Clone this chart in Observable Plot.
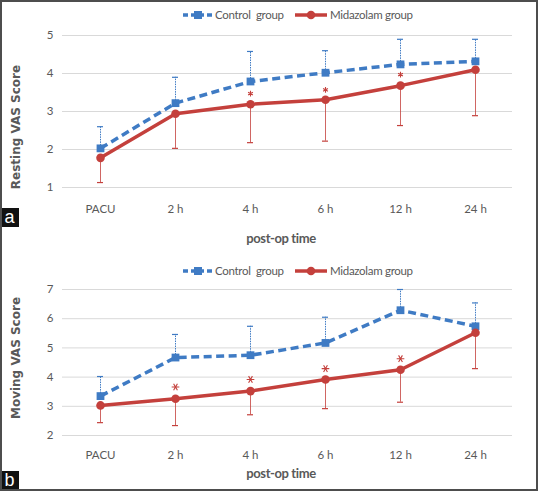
<!DOCTYPE html>
<html>
<head>
<meta charset="utf-8">
<script src="https://cdn.jsdelivr.net/npm/d3@7"></script>
<script src="https://cdn.jsdelivr.net/npm/@observablehq/plot@0.6"></script>
<style>
  html, body { margin: 0; padding: 0; background: #fff; }
  #wrap { position: absolute; left: 0; top: 0; width: 538px; height: 491px; background: #fff; overflow: hidden; }
  .abs { position: absolute; }
  .xtitle { font-family: Lato, sans-serif; font-weight: bold; font-size: 13px; letter-spacing: -0.4px; color: #595959; transform: translate(-50%, -50%); white-space: nowrap; }
  .ytitle { font-family: "DejaVu Sans", sans-serif; font-weight: bold; font-size: 12px; color: #595959; transform: translate(-50%, -50%) rotate(-90deg); white-space: nowrap; }
  .tag { background: #111; color: #fff; font-family: "Liberation Sans", Arial, sans-serif; font-size: 18px; line-height: 19px; text-align: center; width: 19px; height: 19px; }
  #border { position: absolute; left: 0; top: 0; width: 538px; height: 491px; box-sizing: border-box; border: 2px solid #4d4d4d; pointer-events: none; }
</style>
</head>
<body>
<div id="wrap"></div>
<script>
// ---- data ----
const times = ["PACU", "2 h", "4 h", "6 h", "12 h", "24 h"];
const seriesNames = ["Control  group", "Midazolam group"];

// Panel a: Resting VAS
const restControlMean = [2.03, 3.22, 3.79, 4.02, 4.24, 4.32];
const restControlUpper = [2.6, 3.9, 4.58, 4.6, 4.9, 4.9];
const restMidazMean = [1.78, 2.94, 3.19, 3.31, 3.68, 4.1];
const restMidazLower = [1.13, 2.03, 2.18, 2.22, 2.63, 2.89];
const restStarTimes = ["4 h", "6 h", "12 h"];
const restStarY = [3.47, 3.57, 3.97];
const restTicks = [1, 2, 3, 4, 5];

// Panel b: Moving VAS
const moveControlMean = [3.35, 4.67, 4.75, 5.17, 6.29, 5.74];
const moveControlUpper = [4.02, 5.46, 5.74, 6.05, 7.0, 6.54];
const moveMidazMean = [3.03, 3.26, 3.52, 3.92, 4.25, 5.52];
const moveMidazLower = [2.44, 2.34, 2.71, 2.92, 3.14, 4.29];
const moveStarTimes = ["2 h", "4 h", "6 h", "12 h"];
const moveStarY = [3.66, 3.92, 4.29, 4.63];
const moveTicks = [2, 3, 4, 5, 6, 7];

const BLUE = "#3f7bc4";
const RED = "#c4403c";
const GRAY = "#595959";
const FONT = "Lato, sans-serif";

// asterisk with a horizontal bar (rotated 6-spoke)
const asteriskH = {
  draw(context, size) {
    const r = Math.sqrt(size) * 0.6;
    const t = r / 2, u = t * Math.sqrt(3);
    context.moveTo(-r, 0); context.lineTo(r, 0);
    context.moveTo(-t, -u); context.lineTo(t, u);
    context.moveTo(-t, u); context.lineTo(t, -u);
  }
};

const wrap = document.getElementById("wrap");

function rows(mean, err) {
  return times.map((t, i) => ({time: t, mean: mean[i], err: err[i]}));
}

function panel({top, height, marginTop, marginBottom, domain, ticks, ctrlMean, ctrlUpper, midMean, midLower, starTimes, starY, starSymbol, starR, tickPad}) {
  const ctrl = rows(ctrlMean, ctrlUpper);
  const mid = rows(midMean, midLower);
  const stars = starTimes.map((t, i) => ({time: t, y: starY[i]}));
  const plot = Plot.plot({
    width: 538,
    height,
    marginLeft: 62,
    marginRight: 26,
    marginTop,
    marginBottom,
    style: {background: "transparent", color: GRAY, fontFamily: FONT, fontSize: "11.5px"},
    x: {type: "point", domain: times, padding: 0.5, axis: null},
    y: {domain, axis: null},
    marks: [
      Plot.ruleY(ticks, {stroke: "#d9d9d9", strokeWidth: 1}),
      Plot.axisY(ticks, {tickSize: 0, tickPadding: 9, label: null, fontSize: 11.5}),
      Plot.axisX(times, {tickSize: 0, tickPadding: tickPad, label: null, fontSize: 11.5}),
      // control error bars (up, dotted)
      Plot.ruleX(ctrl, {x: "time", y1: "mean", y2: "err", stroke: BLUE, strokeWidth: 1, strokeDasharray: "1.5,1"}),
      Plot.ruleY(ctrl, {x1: "time", x2: "time", y: "err", stroke: BLUE, strokeWidth: 1.2, insetLeft: -3, insetRight: -3}),
      // midazolam error bars (down, solid)
      Plot.ruleX(mid, {x: "time", y1: "mean", y2: "err", stroke: RED, strokeWidth: 1, strokeOpacity: 0.8}),
      Plot.ruleY(mid, {x1: "time", x2: "time", y: "err", stroke: RED, strokeWidth: 1.2, insetLeft: -3, insetRight: -3}),
      // control line
      Plot.line(ctrl, {x: "time", y: "mean", stroke: BLUE, strokeWidth: 3.5, strokeDasharray: "8,4.5", strokeLinecap: "butt"}),
      Plot.dot(ctrl, {x: "time", y: "mean", symbol: "square", r: 4.4, fill: BLUE, stroke: null}),
      // midazolam line
      Plot.line(mid, {x: "time", y: "mean", stroke: RED, strokeWidth: 3.5}),
      Plot.dot(mid, {x: "time", y: "mean", symbol: "circle", r: 4.3, fill: RED, stroke: null}),
      // significance asterisks
      Plot.dot(stars, {x: "time", y: "y", symbol: starSymbol, r: starR, stroke: RED, strokeWidth: 1.1})
    ]
  });
  plot.style.position = "absolute";
  plot.style.left = "0px";
  plot.style.top = top + "px";
  wrap.appendChild(plot);
}

function legend(cy) {
  const svg = d3.create("svg").attr("width", 538).attr("height", 20)
    .style("position", "absolute").style("left", "0px").style("top", (cy - 10) + "px");
  const y = 10;
  svg.append("line").attr("x1", 183).attr("x2", 213).attr("y1", y).attr("y2", y)
    .attr("stroke", BLUE).attr("stroke-width", 3.5).attr("stroke-dasharray", "5,3");
  svg.append("rect").attr("x", 194).attr("y", y - 4).attr("width", 8).attr("height", 8).attr("fill", BLUE);
  svg.append("text").attr("x", 215).attr("y", y).attr("dy", "0.35em").text(seriesNames[0])
    .attr("fill", GRAY).attr("font-size", 11.5).attr("letter-spacing", "-0.3px").style("white-space", "pre")
    .attr("font-family", FONT);
  svg.append("line").attr("x1", 295).attr("x2", 327).attr("y1", y).attr("y2", y)
    .attr("stroke", RED).attr("stroke-width", 3.5);
  svg.append("circle").attr("cx", 311).attr("cy", y).attr("r", 4.3).attr("fill", RED);
  svg.append("text").attr("x", 330).attr("y", y).attr("dy", "0.35em").text(seriesNames[1])
    .attr("fill", GRAY).attr("font-size", 11.5).attr("letter-spacing", "-0.3px")
    .attr("font-family", FONT);
  wrap.appendChild(svg.node());
}

function label(cls, text, x, y) {
  const d = document.createElement("div");
  d.className = "abs " + cls;
  d.textContent = text;
  d.style.left = x + "px";
  d.style.top = y + "px";
  wrap.appendChild(d);
  return d;
}

// Panel a: y 35..187
panel({top: 0, height: 245, marginTop: 35, marginBottom: 58, domain: [1, 5], ticks: restTicks,
  ctrlMean: restControlMean, ctrlUpper: restControlUpper, midMean: restMidazMean, midLower: restMidazLower,
  starTimes: restStarTimes, starY: restStarY, starSymbol: "asterisk", starR: 2.6, tickPad: 17});
legend(15);
label("ytitle", "Resting VAS Score", 16, 127);
label("xtitle", "post-op time", 281, 238);
label("tag", "a", 0, 208);

// Panel b: page y 289..435
panel({top: 245, height: 246, marginTop: 44, marginBottom: 56, domain: [2, 7], ticks: moveTicks,
  ctrlMean: moveControlMean, ctrlUpper: moveControlUpper, midMean: moveMidazMean, midLower: moveMidazLower,
  starTimes: moveStarTimes, starY: moveStarY, starSymbol: asteriskH, starR: 3.6, tickPad: 15});
legend(271);
label("ytitle", "Moving VAS Score", 16, 358);
label("xtitle", "post-op time", 281, 473);
label("tag", "b", 0, 471);

const b = document.createElement("div");
b.id = "border";
document.body.appendChild(b);
</script>
</body>
</html>
